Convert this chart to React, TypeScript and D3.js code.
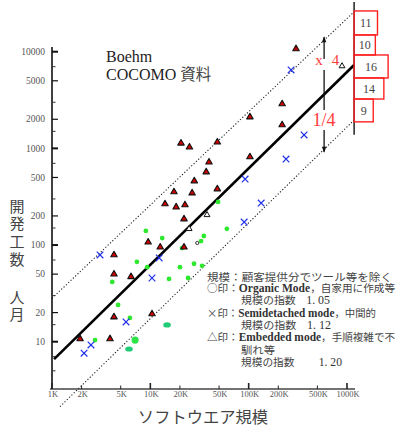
import React from "react";
import * as d3 from "d3";

// ---- data: [size in K lines, effort in man-months] ----
const embeddedPoints: [number, number][] = [
  [20.5, 1130], [25, 1030], [48, 1160], [39.5, 720], [37, 570], [28, 460],
  [17.4, 354], [26.6, 345], [48, 380], [14.1, 266], [18.3, 247], [22.5, 260],
  [22, 186], [303, 10700], [219, 2880], [103, 2110], [219, 1750], [103, 815],
  [9.5, 107], [12.6, 95], [22, 95], [4.27, 79], [4.27, 50], [6.36, 47],
  [4.27, 18], [10.4, 19.4], [1.93, 10.7], [3.89, 10.7],
];
const embeddedOpenPoints: [number, number][] = [[890, 7100], [37.7, 205], [24.8, 147]];
const semidetachedPoints: [number, number][] = [
  [270, 6470], [366, 1375], [240, 776], [92, 482], [134, 272], [90, 173],
  [3.08, 79], [12.3, 73.5], [10.4, 45.6], [5.66, 16], [2.49, 9.25], [2.12, 7.6],
];
const organicPoints: [number, number][] = [
  [48.8, 279], [60, 147], [9.0, 140], [13.2, 118], [35, 124], [32.8, 110],
  [21, 93], [7.3, 67], [9.3, 59], [20, 59], [27.8, 64], [33.6, 61],
  [4.1, 41.5], [15.5, 44.6], [24.2, 45.6], [4.7, 24], [6.2, 17.6], [2.74, 10.4],
];
const organicLargePoints: [number, number][] = [[7.0, 10.4]];
const organicClusterPoints: [number, number][] = [[14.8, 14.9], [6.07, 8.4]];
const organicOpenPoints: [number, number][] = [[30, 105]];

// fitted line and the x4 / x1/4 envelopes (end points)
const fitLine: [number, number][] = [[1.05, 6.6], [1181, 7280]];
const upperLine: [number, number][] = [[1.0, 28.1], [1181, 25900]];
const lowerLine: [number, number][] = [[1.206, 2.13], [1181, 1963]];

// histogram of points per band at the right end
const bandCounts = [11, 10, 16, 14, 9];
const bandEdges = [26400, 14900, 9250, 5350, 3240, 1880];
const bandAxisSpan = [32600, 1380];
const bandSize = 1181;

// arrow
const arrowSize = 585;
const arrowFactor = 4;

// ticks
const yTickValues = [10, 20, 50, 100, 200, 500, 1000, 2000, 5000, 10000];
const yTickLabels = ["10", "20", "50", "100", "200", "500", "1000", "2000", "5000", "10000"];
const yMinorTicks = [5, 7, 15, 30, 70, 150, 300, 700, 1500, 3000, 7000];
const xTickValues = [1, 2, 5, 10, 20, 50, 100, 200, 500, 1000];
const xTickLabels = ["1K", "2K", "5K", "10K", "20K", "50K", "100K", "200K", "500K", "1000K"];

const SERIF = "'Liberation Serif', 'Times New Roman', serif";
const CJK = "'Noto Sans CJK JP', 'Noto Sans CJK SC', sans-serif";
const MIX = "'Liberation Serif', 'Noto Sans CJK JP', serif";

type Seg = { t: string; en?: boolean; num?: boolean };
const noteLines: { indent: boolean; width: number; segs: Seg[] }[] = [
  { indent: false, width: 185, segs: [{ t: "規模：顧客提供分でツール等を除く" }] },
  { indent: false, width: 188, segs: [{ t: "○印：" }, { t: "Organic Mode", en: true }, { t: "，自家用に作成等" }] },
  { indent: true, width: 89, segs: [{ t: "規模の指数" }, { t: "1. 05", num: true }] },
  { indent: false, width: 169, segs: [{ t: "×印：" }, { t: "Semidetached mode", en: true }, { t: "，中間的" }] },
  { indent: true, width: 90, segs: [{ t: "規模の指数" }, { t: "1. 12", num: true }] },
  { indent: false, width: 188, segs: [{ t: "△印：" }, { t: "Embedded mode", en: true }, { t: "，手順複雑で不" }] },
  { indent: true, width: 34, segs: [{ t: "馴れ等" }] },
  { indent: true, width: 101, segs: [{ t: "規模の指数" }, { t: "1. 20", num: true }] },
];
const noteBaselines = [281, 292, 304, 317, 329, 341, 354, 366];

export default function App() {
  const x = d3.scaleLog().domain([1, 1000]).range([52, 347]);
  const y = d3.scaleLog().domain([10, 10000]).range([341.7, 51.7]);
  const line = d3
    .line<[number, number]>()
    .x((d) => x(d[0]))
    .y((d) => y(d[1]));
  const tri = d3.symbol().type(d3.symbolTriangle).size(18)() as string;
  const triOpen = d3.symbol().type(d3.symbolTriangle).size(15)() as string;
  const cross = "M-3.3,-3.3L3.3,3.3M-3.3,3.3L3.3,-3.3";

  const axisX = x(1);
  const axisY = 389;
  const axisTop = 47;

  const fitSlope =
    (Math.log10(fitLine[1][1]) - Math.log10(fitLine[0][1])) /
    (Math.log10(fitLine[1][0]) - Math.log10(fitLine[0][0]));
  const fitAt = (k: number) =>
    Math.pow(10, Math.log10(fitLine[0][1]) + fitSlope * (Math.log10(k) - Math.log10(fitLine[0][0])));
  const ax = x(arrowSize);
  const aTop = y(fitAt(arrowSize) * arrowFactor);
  const aBot = y(fitAt(arrowSize) / arrowFactor);
  const x4Base = 65;
  const qBase = 126;

  const bx = x(bandSize);
  const bw = d3.scaleLinear().domain([0, 16]).range([0, 34]);

  return (
    <svg
      width={398}
      height={433}
      style={{ position: "absolute", left: 0, top: 0, background: "#fff" }}
    >
      <rect x={0} y={0} width={398} height={433} fill="#fff" />

      {/* envelopes */}
      <path d={line(upperLine) as string} fill="none" stroke="#222" strokeWidth={1.1} strokeDasharray="1.2 2" />
      <path d={line(lowerLine) as string} fill="none" stroke="#222" strokeWidth={1.1} strokeDasharray="1.2 2" />

      {/* axes */}
      <line x1={axisX} x2={axisX} y1={axisTop} y2={axisY} stroke="#111" strokeWidth={1.6} />
      <line x1={axisX - 2} x2={355} y1={axisY} y2={axisY} stroke="#444" strokeWidth={1.4} />
      {yTickValues.map((v, i) => {
        const major = v === 10 || v === 100 || v === 1000 || v === 10000;
        return (
          <g key={"yt" + v}>
            <line x1={axisX} x2={axisX + 6} y1={y(v)} y2={y(v)} stroke="#111" strokeWidth={major ? 2 : 1.2} />
            <text x={45} y={y(v)} dy="0.33em" textAnchor="end" fontFamily={SERIF} fontSize={9.5} fill="#555">
              {yTickLabels[i]}
            </text>
          </g>
        );
      })}
      {yMinorTicks.map((v) => (
        <line key={"ym" + v} x1={axisX} x2={axisX + 3.5} y1={y(v)} y2={y(v)} stroke="#333" strokeWidth={1} />
      ))}
      {xTickValues.map((v, i) => {
        const major = v === 1 || v === 10 || v === 100 || v === 1000;
        return (
          <g key={"xt" + v}>
            <line x1={x(v)} x2={x(v)} y1={axisY} y2={axisY - (major ? 6 : 3.5)} stroke="#222" strokeWidth={major ? 1.6 : 1} />
            <text x={x(v) + 1} y={396.5} textAnchor="middle" fontFamily={SERIF} fontSize={8.5} fill="#555">
              {xTickLabels[i]}
            </text>
          </g>
        );
      })}

      {/* fitted line */}
      <path d={line(fitLine) as string} fill="none" stroke="#000" strokeWidth={2.6} />

      {/* organic */}
      {organicPoints.map((d, i) => (
        <circle key={"o" + i} cx={x(d[0])} cy={y(d[1])} r={2.4} fill="#2ee82e" />
      ))}
      {organicLargePoints.map((d, i) => (
        <ellipse key={"ol" + i} cx={x(d[0])} cy={y(d[1])} rx={3.6} ry={3.6} fill="#2ee24a" />
      ))}
      {organicClusterPoints.map((d, i) => (
        <ellipse key={"oc" + i} cx={x(d[0])} cy={y(d[1])} rx={3.8} ry={2.6} fill="#22cc77" />
      ))}
      {organicOpenPoints.map((d, i) => (
        <circle key={"oo" + i} cx={x(d[0])} cy={y(d[1])} r={1.6} fill="#fff" stroke="#222" strokeWidth={0.9} />
      ))}

      {/* semidetached */}
      {semidetachedPoints.map((d, i) => (
        <path key={"s" + i} d={cross} transform={`translate(${x(d[0])},${y(d[1])})`} stroke="#2030e8" strokeWidth={1.2} fill="none" />
      ))}

      {/* embedded */}
      {embeddedPoints.map((d, i) => (
        <path key={"e" + i} d={tri} transform={`translate(${x(d[0])},${y(d[1])})`} fill="#cc0000" stroke="#111" strokeWidth={1.1} strokeLinejoin="round" />
      ))}
      {embeddedOpenPoints.map((d, i) => (
        <path key={"eo" + i} d={triOpen} transform={`translate(${x(d[0])},${y(d[1])})`} fill="#fff" stroke="#111" strokeWidth={1} />
      ))}

      {/* band histogram */}
      <line x1={bx} x2={bx} y1={y(bandAxisSpan[0])} y2={y(bandAxisSpan[1])} stroke="#111" strokeWidth={1.4} />
      {bandCounts.map((c, i) => {
        const y0 = y(bandEdges[i]);
        const y1 = y(bandEdges[i + 1]);
        return (
          <g key={"b" + i}>
            <rect x={bx} y={y0} width={bw(c)} height={y1 - y0} fill="none" stroke="#ff2020" strokeWidth={1.4} />
            <text x={bx + bw(c) / 2} y={(y0 + y1) / 2} dy="0.35em" textAnchor="middle" fontFamily={SERIF} fontSize={12} fill="#444">
              {c}
            </text>
          </g>
        );
      })}

      {/* arrow */}
      <g stroke="#111" strokeWidth={1.3} fill="none">
        <line x1={ax} x2={ax} y1={aTop + 1} y2={x4Base - 6} />
        <line x1={ax} x2={ax} y1={x4Base + 5} y2={qBase - 16} />
        <line x1={ax} x2={ax} y1={qBase + 4} y2={aBot - 1} />
      </g>
      <path d={`M${ax},${aTop}L${ax - 2.2},${aTop + 6}L${ax + 2.2},${aTop + 6}Z`} fill="#111" />
      <path d={`M${ax},${aBot}L${ax - 2.2},${aBot - 6}L${ax + 2.2},${aBot - 6}Z`} fill="#111" />
      <text x={ax - 5} y={x4Base} textAnchor="middle" fontFamily={SERIF} fontSize={15} fill="#ff3b3b">x</text>
      <text x={ax + 11.5} y={x4Base} textAnchor="middle" fontFamily={SERIF} fontSize={15} fill="#ff3b3b">4</text>
      <text x={ax} y={qBase} textAnchor="middle" fontFamily={SERIF} fontSize={18} fill="#ff3b3b">1/4</text>

      {/* titles */}
      <text x={106} y={62} fontFamily={SERIF} fontSize={16} fill="#222">Boehm</text>
      <text x={106} y={80} fontFamily={MIX} fontSize={16} fill="#222">
        COCOMO <tspan fontFamily={CJK} fontSize={15.5} fill="#444">資料</tspan>
      </text>

      {/* axis titles */}
      {["開", "発", "工", "数"].map((c, i) => (
        <text key={"yl" + i} x={17} y={206 + i * 17.7} dy="0.38em" textAnchor="middle" fontFamily={CJK} fontSize={15} fill="#444">{c}</text>
      ))}
      {["人", "月"].map((c, i) => (
        <text key={"yl2" + i} x={17} y={297 + i * 17} dy="0.38em" textAnchor="middle" fontFamily={CJK} fontSize={15} fill="#444">{c}</text>
      ))}
      <text x={203} y={417} dy="0.38em" textAnchor="middle" fontFamily={CJK} fontSize={16.3} fill="#444">ソフトウエア規模</text>

      {/* notes */}
      {noteLines.map((ln, i) => (
        <text
          key={"n" + i}
          x={ln.indent ? 241 : 207}
          y={noteBaselines[i]}
          fontFamily={CJK}
          fontSize={10.6}
          fill="#444"
          textLength={ln.width}
          lengthAdjust="spacingAndGlyphs"
        >
          {ln.segs.map((s, j) =>
            s.en ? (
              <tspan key={j} fontFamily={SERIF} fontWeight="bold" fontSize={11.5} fill="#333">
                {s.t}
              </tspan>
            ) : s.num ? (
              <tspan key={j} fontFamily={SERIF} fontSize={11.5} fill="#333" dx={i === 7 ? 24 : 10}>
                {s.t}
              </tspan>
            ) : (
              <tspan key={j}>{s.t}</tspan>
            )
          )}
        </text>
      ))}
    </svg>
  );
}
